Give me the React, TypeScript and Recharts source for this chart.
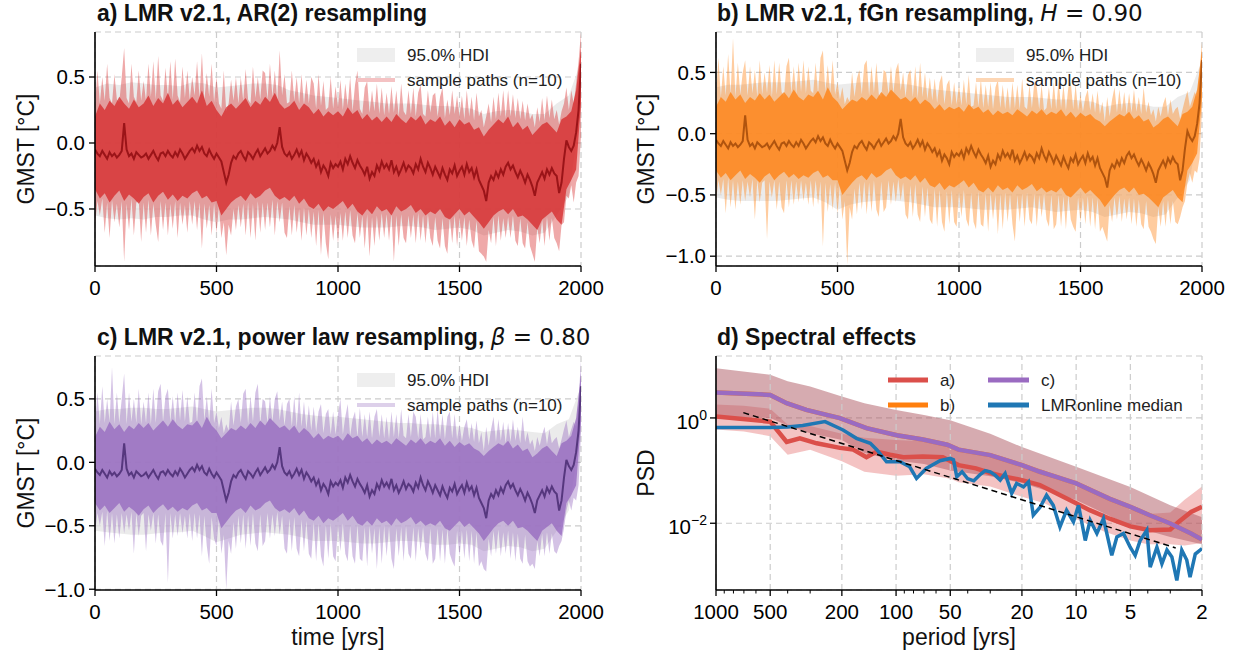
import React from 'react';
import {
  ComposedChart,
  Area,
  Line,
  XAxis,
  YAxis,
  CartesianGrid,
  ReferenceLine,
} from 'recharts';

const FONT = '"Liberation Sans", Arial, Helvetica, sans-serif';
const MATH = '"DejaVu Sans", sans-serif';

// years 0..2000 every 10 yrs (201 points)
const years = Array.from({ length: 201 }, (_, i) => i * 10);

// LMR v2.1 median GMST, shared by panels a-c (every 10 yrs)
const medianLmr = [
  -0.05, -0.08, -0.1, -0.06, -0.09, -0.12, -0.07, -0.1, -0.08, -0.11,
  -0.09, -0.06, 0.15, -0.05, -0.1, -0.08, -0.12, -0.07, -0.09, -0.11,
  -0.1, -0.08, -0.12, -0.09, -0.06, -0.1, -0.13, -0.08, -0.07, -0.1,
  -0.06, -0.09, -0.11, -0.07, -0.1, -0.05, -0.08, -0.12, -0.09, -0.06,
  -0.04, -0.07, -0.02, -0.06, -0.03, -0.08, -0.1, -0.05, -0.09, -0.12,
  -0.08, -0.11, -0.14, -0.22, -0.3, -0.24, -0.15, -0.1, -0.12, -0.08,
  -0.06, -0.1, -0.13, -0.07, -0.09, -0.12, -0.08, -0.05, -0.1, -0.07,
  -0.04, -0.08, -0.06, -0.02, -0.05, 0.0, 0.12, -0.03, -0.08, -0.1,
  -0.07, -0.12, -0.09, -0.05, -0.1, -0.06, -0.13, -0.08, -0.11, -0.15,
  -0.12, -0.18, -0.14, -0.22, -0.17, -0.2, -0.25, -0.15, -0.19, -0.16,
  -0.18, -0.14, -0.2, -0.12, -0.16, -0.1, -0.15, -0.19, -0.13, -0.17,
  -0.2, -0.24, -0.18, -0.27, -0.22, -0.25, -0.17, -0.21, -0.14, -0.19,
  -0.16, -0.2, -0.13, -0.22, -0.18, -0.24, -0.2, -0.15, -0.21, -0.17,
  -0.19, -0.23, -0.16, -0.2, -0.12, -0.18, -0.22, -0.15, -0.19, -0.24,
  -0.18, -0.22, -0.26, -0.19, -0.24, -0.28, -0.2, -0.23, -0.17, -0.25,
  -0.21, -0.18, -0.24, -0.16, -0.22, -0.19, -0.26, -0.2, -0.28, -0.32,
  -0.36, -0.44, -0.3, -0.25, -0.28, -0.22, -0.26, -0.2, -0.24, -0.18,
  -0.15, -0.2, -0.17, -0.22, -0.26, -0.21, -0.25, -0.3, -0.24, -0.28,
  -0.33, -0.4, -0.3, -0.26, -0.22, -0.27, -0.2, -0.24, -0.19, -0.23,
  -0.25, -0.38, -0.3, -0.12, 0.02, -0.03, -0.06, -0.02, 0.08, 0.25,
  0.6,
];

// a) AR(2): extremes of the sample paths (every 10 yrs)
const outerHiA = [
  0.28, 0.55, 0.3, 0.5, 0.32, 0.6, 0.34, 0.3, 0.52, 0.33,
  0.31, 0.5, 0.72, 0.34, 0.3, 0.6, 0.35, 0.31, 0.55, 0.32,
  0.47, 0.32, 0.6, 0.35, 0.62, 0.33, 0.66, 0.36, 0.32, 0.57,
  0.34, 0.62, 0.33, 0.64, 0.36, 0.31, 0.58, 0.34, 0.55, 0.33,
  0.5, 0.36, 0.62, 0.34, 0.68, 0.32, 0.53, 0.35, 0.6, 0.31,
  0.5, 0.3, 0.26, 0.55, 0.24, 0.3, 0.48, 0.32, 0.5, 0.3,
  0.5, 0.32, 0.56, 0.33, 0.3, 0.58, 0.34, 0.5, 0.33, 0.55,
  0.53, 0.33, 0.6, 0.35, 0.55, 0.32, 0.7, 0.36, 0.52, 0.3,
  0.31, 0.55, 0.32, 0.5, 0.3, 0.52, 0.29, 0.48, 0.3, 0.5,
  0.45, 0.26, 0.52, 0.28, 0.47, 0.25, 0.27, 0.5, 0.26, 0.43,
  0.27, 0.48, 0.25, 0.45, 0.28, 0.5, 0.24, 0.44, 0.55, 0.26,
  0.22, 0.42, 0.47, 0.23, 0.4, 0.24, 0.45, 0.22, 0.42, 0.21,
  0.38, 0.22, 0.43, 0.23, 0.4, 0.2, 0.45, 0.24, 0.21, 0.4,
  0.22, 0.42, 0.2, 0.38, 0.44, 0.22, 0.2, 0.4, 0.23, 0.36,
  0.38, 0.2, 0.35, 0.42, 0.19, 0.33, 0.21, 0.4, 0.22, 0.36,
  0.2, 0.36, 0.18, 0.4, 0.2, 0.35, 0.17, 0.38, 0.2, 0.25,
  0.12, 0.2, 0.3, 0.16, 0.35, 0.18, 0.38, 0.2, 0.4, 0.19,
  0.4, 0.2, 0.37, 0.19, 0.34, 0.18, 0.32, 0.17, 0.3, 0.18,
  0.22, 0.12, 0.27, 0.16, 0.34, 0.17, 0.36, 0.19, 0.33, 0.18,
  0.25, 0.14, 0.24, 0.3, 0.42, 0.25, 0.4, 0.3, 0.45, 0.62,
  0.84,
];
const outerLoA = [
  -0.62, -0.44, -0.55, -0.42, -0.68, -0.45, -0.72, -0.43, -0.6, -0.46,
  -0.64, -0.44, -0.9, -0.46, -0.66, -0.42, -0.7, -0.45, -0.44, -0.75,
  -0.45, -0.68, -0.43, -0.7, -0.46, -0.62, -0.75, -0.44, -0.66, -0.45,
  -0.7, -0.46, -0.65, -0.44, -0.72, -0.45, -0.62, -0.47, -0.68, -0.44,
  -0.62, -0.44, -0.66, -0.45, -0.8, -0.46, -0.65, -0.47, -0.7, -0.46,
  -0.68, -0.48, -0.72, -0.6, -0.85, -0.62, -0.7, -0.5, -0.66, -0.47,
  -0.64, -0.46, -0.7, -0.45, -0.72, -0.46, -0.74, -0.44, -0.68, -0.45,
  -0.66, -0.45, -0.64, -0.43, -0.7, -0.44, -0.6, -0.45, -0.68, -0.72,
  -0.48, -0.7, -0.47, -0.68, -0.5, -0.74, -0.49, -0.7, -0.5, -0.72,
  -0.52, -0.78, -0.51, -0.85, -0.53, -0.76, -0.88, -0.54, -0.74, -0.55,
  -0.76, -0.53, -0.74, -0.52, -0.72, -0.51, -0.7, -0.76, -0.53, -0.72,
  -0.55, -0.8, -0.54, -0.86, -0.56, -0.78, -0.55, -0.74, -0.53, -0.72,
  -0.54, -0.74, -0.53, -0.9, -0.55, -0.78, -0.54, -0.72, -0.76, -0.55,
  -0.72, -0.54, -0.76, -0.53, -0.74, -0.55, -0.76, -0.54, -0.72, -0.78,
  -0.56, -0.74, -0.8, -0.57, -0.78, -0.84, -0.56, -0.76, -0.55, -0.78,
  -0.57, -0.74, -0.56, -0.78, -0.58, -0.74, -0.8, -0.59, -0.82, -0.84,
  -0.86, -0.9, -0.66, -0.76, -0.56, -0.78, -0.55, -0.74, -0.57, -0.72,
  -0.56, -0.72, -0.55, -0.74, -0.78, -0.57, -0.76, -0.8, -0.6, -0.78,
  -0.84, -0.9, -0.64, -0.76, -0.58, -0.78, -0.56, -0.74, -0.57, -0.72,
  -0.76, -0.82, -0.62, -0.6, -0.4, -0.42, -0.32, -0.45, -0.3, -0.25,
  0.05,
];
// a) dense core of the sample paths (every 20 yrs)
const innerHiA = [
  0.2, 0.3, 0.25, 0.32, 0.28, 0.35, 0.3, 0.26, 0.33, 0.27,
  0.3, 0.36, 0.28, 0.34, 0.3, 0.38, 0.29, 0.33, 0.27, 0.31,
  0.35, 0.3, 0.4, 0.28, 0.32, 0.25, 0.2, 0.27, 0.3, 0.26,
  0.3, 0.34, 0.27, 0.32, 0.29, 0.35, 0.31, 0.38, 0.3, 0.26,
  0.28, 0.32, 0.25, 0.3, 0.27, 0.22, 0.26, 0.2, 0.24, 0.21,
  0.24, 0.2, 0.27, 0.22, 0.25, 0.18, 0.22, 0.17, 0.2, 0.16,
  0.2, 0.16, 0.22, 0.18, 0.15, 0.2, 0.17, 0.21, 0.14, 0.18,
  0.16, 0.2, 0.13, 0.17, 0.12, 0.18, 0.14, 0.16, 0.1, 0.12,
  0.05, 0.1, 0.14, 0.18, 0.15, 0.2, 0.12, 0.16, 0.1, 0.13,
  0.06, 0.1, 0.14, 0.16, 0.12, 0.08, 0.18, 0.2, 0.24, 0.4,
  0.72,
];
const innerLoA = [
  -0.35, -0.42, -0.38, -0.45, -0.4, -0.36, -0.44, -0.39, -0.42, -0.46,
  -0.41, -0.38, -0.45, -0.4, -0.37, -0.43, -0.39, -0.44, -0.4, -0.42,
  -0.38, -0.36, -0.42, -0.4, -0.45, -0.44, -0.55, -0.5, -0.45, -0.42,
  -0.4, -0.44, -0.38, -0.42, -0.4, -0.36, -0.34, -0.4, -0.43, -0.41,
  -0.44, -0.4, -0.46, -0.42, -0.48, -0.5, -0.46, -0.52, -0.48, -0.5,
  -0.47, -0.44, -0.5, -0.46, -0.52, -0.55, -0.5, -0.54, -0.48, -0.52,
  -0.5, -0.55, -0.48, -0.52, -0.5, -0.47, -0.53, -0.5, -0.55, -0.52,
  -0.54, -0.5, -0.56, -0.58, -0.54, -0.5, -0.55, -0.52, -0.56, -0.6,
  -0.65, -0.6, -0.55, -0.52, -0.5, -0.54, -0.5, -0.56, -0.55, -0.58,
  -0.62, -0.66, -0.58, -0.55, -0.52, -0.58, -0.62, -0.35, -0.28, -0.2,
  0.3,
];
// a) 95% HDI (every 50 yrs)
const hdiHiA = [
  0.42, 0.45, 0.44, 0.46, 0.45, 0.44, 0.44, 0.43, 0.46, 0.45,
  0.42, 0.43, 0.44, 0.45, 0.45, 0.44, 0.4, 0.38, 0.36, 0.35,
  0.34, 0.33, 0.32, 0.31, 0.3, 0.3, 0.3, 0.29, 0.28, 0.28,
  0.27, 0.26, 0.22, 0.24, 0.25, 0.24, 0.22, 0.22, 0.3, 0.36,
  0.62,
];
const hdiLoA = [
  -0.55, -0.57, -0.58, -0.57, -0.58, -0.56, -0.56, -0.55, -0.55, -0.58,
  -0.6, -0.58, -0.58, -0.57, -0.56, -0.57, -0.58, -0.6, -0.62, -0.62,
  -0.62, -0.63, -0.64, -0.64, -0.64, -0.63, -0.63, -0.64, -0.66, -0.65,
  -0.64, -0.66, -0.7, -0.68, -0.66, -0.67, -0.7, -0.68, -0.55, -0.4,
  0.25,
];

// b) fGn
const outerHiB = [
  0.3, 0.62, 0.3, 0.55, 0.31, 0.65, 0.32, 0.78, 0.3, 0.58,
  0.32, 0.5, 0.6, 0.31, 0.55, 0.33, 0.52, 0.3, 0.6, 0.32,
  0.5, 0.33, 0.56, 0.3, 0.6, 0.32, 0.58, 0.34, 0.31, 0.55,
  0.62, 0.33, 0.55, 0.32, 0.58, 0.34, 0.6, 0.33, 0.55, 0.35,
  0.33, 0.58, 0.32, 0.62, 0.68, 0.34, 0.56, 0.33, 0.6, 0.32,
  0.42, 0.28, 0.38, 0.24, 0.3, 0.26, 0.5, 0.3, 0.45, 0.52,
  0.32, 0.56, 0.6, 0.31, 0.55, 0.33, 0.58, 0.32, 0.3, 0.52,
  0.5, 0.32, 0.55, 0.33, 0.52, 0.58, 0.35, 0.5, 0.3, 0.48,
  0.52, 0.3, 0.55, 0.29, 0.58, 0.3, 0.5, 0.28, 0.46, 0.27,
  0.45, 0.25, 0.42, 0.48, 0.24, 0.4, 0.44, 0.23, 0.42, 0.24,
  0.4, 0.23, 0.44, 0.24, 0.48, 0.22, 0.23, 0.42, 0.22, 0.45,
  0.21, 0.4, 0.22, 0.42, 0.2, 0.38, 0.44, 0.21, 0.4, 0.2,
  0.38, 0.19, 0.42, 0.21, 0.4, 0.2, 0.45, 0.22, 0.2, 0.4,
  0.21, 0.42, 0.38, 0.2, 0.4, 0.19, 0.21, 0.38, 0.2, 0.42,
  0.2, 0.44, 0.21, 0.4, 0.19, 0.38, 0.42, 0.2, 0.4, 0.19,
  0.32, 0.18, 0.3, 0.36, 0.19, 0.33, 0.17, 0.35, 0.16, 0.26,
  0.1, 0.3, 0.14, 0.28, 0.38, 0.17, 0.36, 0.18, 0.34, 0.16,
  0.33, 0.17, 0.36, 0.18, 0.3, 0.16, 0.38, 0.17, 0.26, 0.15,
  0.2, 0.1, 0.22, 0.14, 0.24, 0.3, 0.15, 0.28, 0.16, 0.2,
  0.22, 0.12, 0.2, 0.28, 0.35, 0.22, 0.28, 0.34, 0.3, 0.52,
  0.75,
];
const outerLoB = [
  -0.55, -0.38, -0.5, -0.37, -0.65, -0.36, -0.6, -0.38, -0.62, -0.39,
  -0.58, -0.38, -0.55, -0.39, -0.52, -0.37, -0.7, -0.38, -0.56, -0.4,
  -0.38, -0.86, -0.39, -0.52, -0.38, -0.62, -0.39, -0.6, -0.65, -0.38,
  -0.6, -0.38, -0.58, -0.39, -0.56, -0.38, -0.55, -0.4, -0.58, -0.38,
  -0.6, -0.38, -0.58, -0.39, -0.92, -0.4, -0.64, -0.41, -0.62, -0.4,
  -0.65, -0.42, -0.7, -0.55, -1.07, -0.6, -0.7, -0.45, -0.66, -0.4,
  -0.62, -0.39, -0.66, -0.4, -0.64, -0.38, -0.62, -0.68, -0.39, -0.64,
  -0.6, -0.38, -0.58, -0.39, -0.56, -0.37, -0.55, -0.4, -0.66, -0.7,
  -0.42, -0.68, -0.41, -0.66, -0.72, -0.43, -0.68, -0.44, -0.7, -0.74,
  -0.45, -0.76, -0.46, -0.72, -0.8, -0.47, -0.74, -0.46, -0.72, -0.76,
  -0.47, -0.68, -0.46, -0.7, -0.76, -0.48, -0.72, -0.78, -0.47, -0.74,
  -0.76, -0.49, -0.8, -0.48, -0.7, -0.5, -0.82, -0.49, -0.78, -0.48,
  -0.72, -0.49, -0.74, -0.88, -0.5, -0.72, -0.49, -0.76, -0.48, -0.7,
  -0.74, -0.49, -0.76, -0.5, -0.68, -0.49, -0.7, -0.76, -0.5, -0.78,
  -0.74, -0.5, -0.76, -0.51, -0.78, -0.5, -0.7, -0.76, -0.8, -0.52,
  -0.72, -0.52, -0.74, -0.51, -0.76, -0.52, -0.78, -0.53, -0.8, -0.76,
  -0.82, -0.88, -0.58, -0.72, -0.52, -0.7, -0.51, -0.72, -0.53, -0.7,
  -0.52, -0.74, -0.53, -0.76, -0.54, -0.74, -0.78, -0.55, -0.76, -0.8,
  -0.86, -0.9, -0.6, -0.76, -0.55, -0.76, -0.54, -0.74, -0.55, -0.72,
  -0.74, -0.68, -0.6, -0.55, -0.4, -0.32, -0.4, -0.3, -0.32, -0.2,
  0.2,
];
const innerHiB = [
  0.22, 0.3, 0.26, 0.34, 0.28, 0.32, 0.25, 0.3, 0.27, 0.33,
  0.28, 0.32, 0.26, 0.3, 0.34, 0.29, 0.36, 0.3, 0.27, 0.32,
  0.3, 0.35, 0.28, 0.38, 0.3, 0.26, 0.2, 0.24, 0.28, 0.26,
  0.3, 0.27, 0.32, 0.28, 0.34, 0.3, 0.36, 0.32, 0.28, 0.3,
  0.26, 0.3, 0.24, 0.28, 0.25, 0.2, 0.24, 0.19, 0.22, 0.2,
  0.22, 0.18, 0.24, 0.2, 0.22, 0.17, 0.2, 0.15, 0.19, 0.16,
  0.18, 0.15, 0.2, 0.17, 0.14, 0.19, 0.16, 0.2, 0.15, 0.18,
  0.16, 0.2, 0.14, 0.18, 0.13, 0.17, 0.14, 0.16, 0.12, 0.1,
  0.06, 0.1, 0.13, 0.16, 0.14, 0.18, 0.12, 0.15, 0.1, 0.12,
  0.05, 0.08, 0.12, 0.14, 0.1, 0.06, 0.16, 0.18, 0.22, 0.36,
  0.68,
];
const innerLoB = [
  -0.3, -0.36, -0.32, -0.38, -0.34, -0.3, -0.37, -0.33, -0.36, -0.4,
  -0.35, -0.32, -0.38, -0.34, -0.31, -0.36, -0.33, -0.37, -0.34, -0.36,
  -0.32, -0.3, -0.36, -0.34, -0.38, -0.38, -0.5, -0.45, -0.4, -0.36,
  -0.34, -0.38, -0.32, -0.36, -0.34, -0.3, -0.28, -0.34, -0.37, -0.35,
  -0.38, -0.34, -0.4, -0.36, -0.42, -0.44, -0.4, -0.46, -0.42, -0.44,
  -0.41, -0.38, -0.44, -0.4, -0.46, -0.48, -0.44, -0.48, -0.42, -0.46,
  -0.44, -0.48, -0.42, -0.46, -0.44, -0.41, -0.47, -0.44, -0.48, -0.46,
  -0.48, -0.44, -0.5, -0.52, -0.48, -0.44, -0.49, -0.46, -0.5, -0.54,
  -0.6, -0.55, -0.5, -0.46, -0.44, -0.48, -0.44, -0.5, -0.49, -0.52,
  -0.56, -0.6, -0.52, -0.49, -0.46, -0.52, -0.56, -0.3, -0.24, -0.16,
  0.3,
];
const hdiHiB = [
  0.38, 0.4, 0.4, 0.41, 0.42, 0.42, 0.42, 0.43, 0.44, 0.42,
  0.4, 0.41, 0.42, 0.42, 0.42, 0.41, 0.4, 0.38, 0.36, 0.35,
  0.34, 0.33, 0.32, 0.31, 0.3, 0.3, 0.3, 0.29, 0.28, 0.28,
  0.27, 0.26, 0.22, 0.24, 0.25, 0.24, 0.22, 0.22, 0.3, 0.34,
  0.6,
];
const hdiLoB = [
  -0.52, -0.54, -0.55, -0.55, -0.55, -0.55, -0.54, -0.53, -0.52, -0.56,
  -0.62, -0.58, -0.56, -0.55, -0.54, -0.55, -0.56, -0.58, -0.6, -0.6,
  -0.6, -0.61, -0.62, -0.62, -0.62, -0.61, -0.6, -0.62, -0.64, -0.63,
  -0.62, -0.64, -0.68, -0.66, -0.64, -0.65, -0.68, -0.66, -0.52, -0.38,
  0.25,
];

// c) power law
const outerHiC = [
  0.28, 0.55, 0.3, 0.6, 0.31, 0.5, 0.32, 0.75, 0.3, 0.55,
  0.31, 0.5, 0.7, 0.3, 0.55, 0.32, 0.5, 0.31, 0.58, 0.3,
  0.48, 0.31, 0.55, 0.3, 0.58, 0.31, 0.56, 0.62, 0.32, 0.52,
  0.58, 0.32, 0.52, 0.31, 0.55, 0.33, 0.57, 0.32, 0.52, 0.31,
  0.32, 0.55, 0.31, 0.6, 0.66, 0.33, 0.52, 0.32, 0.58, 0.31,
  0.4, 0.27, 0.36, 0.23, 0.3, 0.25, 0.48, 0.29, 0.44, 0.5,
  0.31, 0.54, 0.58, 0.3, 0.52, 0.32, 0.55, 0.62, 0.3, 0.5,
  0.48, 0.31, 0.52, 0.32, 0.5, 0.56, 0.33, 0.48, 0.29, 0.46,
  0.5, 0.28, 0.52, 0.27, 0.55, 0.28, 0.48, 0.26, 0.45, 0.25,
  0.44, 0.24, 0.4, 0.46, 0.23, 0.38, 0.42, 0.22, 0.4, 0.22,
  0.38, 0.5, 0.22, 0.36, 0.46, 0.21, 0.34, 0.4, 0.2, 0.43,
  0.2, 0.38, 0.2, 0.4, 0.19, 0.36, 0.42, 0.2, 0.38, 0.19,
  0.36, 0.18, 0.4, 0.2, 0.38, 0.19, 0.42, 0.21, 0.19, 0.38,
  0.2, 0.4, 0.36, 0.19, 0.38, 0.18, 0.2, 0.36, 0.19, 0.4,
  0.19, 0.42, 0.2, 0.38, 0.18, 0.36, 0.4, 0.19, 0.38, 0.18,
  0.3, 0.17, 0.28, 0.34, 0.18, 0.31, 0.16, 0.33, 0.15, 0.24,
  0.09, 0.28, 0.13, 0.26, 0.36, 0.16, 0.34, 0.17, 0.32, 0.15,
  0.31, 0.16, 0.34, 0.17, 0.28, 0.15, 0.36, 0.16, 0.24, 0.14,
  0.18, 0.09, 0.2, 0.13, 0.22, 0.28, 0.14, 0.26, 0.15, 0.18,
  0.2, 0.11, 0.18, 0.26, 0.33, 0.2, 0.26, 0.32, 0.28, 0.5,
  0.8,
];
const outerLoC = [
  -0.55, -0.4, -0.5, -0.39, -0.66, -0.38, -0.62, -0.4, -0.64, -0.41,
  -0.6, -0.4, -0.56, -0.41, -0.54, -0.39, -0.72, -0.4, -0.58, -0.42,
  -0.4, -0.7, -0.41, -0.54, -0.4, -0.64, -0.41, -0.62, -0.66, -0.4,
  -0.95, -0.4, -0.6, -0.41, -0.58, -0.4, -0.56, -0.42, -0.6, -0.4,
  -0.62, -0.4, -0.6, -0.41, -0.74, -0.42, -0.66, -0.8, -0.43, -0.6,
  -0.66, -0.44, -0.72, -0.57, -1.0, -0.62, -0.72, -0.47, -0.68, -0.42,
  -0.64, -0.41, -0.68, -0.42, -0.66, -0.4, -0.64, -0.7, -0.41, -0.66,
  -0.62, -0.4, -0.6, -0.41, -0.58, -0.39, -0.57, -0.42, -0.68, -0.72,
  -0.44, -0.7, -0.43, -0.68, -0.74, -0.45, -0.7, -0.46, -0.72, -0.76,
  -0.47, -0.78, -0.48, -0.74, -0.82, -0.49, -0.76, -0.48, -0.74, -0.78,
  -0.49, -0.7, -0.48, -0.72, -0.78, -0.5, -0.74, -0.8, -0.49, -0.76,
  -0.78, -0.51, -0.82, -0.5, -0.72, -0.52, -0.84, -0.51, -0.8, -0.5,
  -0.74, -0.51, -0.76, -0.84, -0.52, -0.74, -0.51, -0.78, -0.5, -0.72,
  -0.76, -0.51, -0.78, -0.52, -0.7, -0.51, -0.72, -0.78, -0.52, -0.8,
  -0.76, -0.52, -0.78, -0.53, -0.8, -0.52, -0.72, -0.78, -0.82, -0.54,
  -0.74, -0.54, -0.76, -0.53, -0.78, -0.54, -0.8, -0.55, -0.82, -0.78,
  -0.84, -0.86, -0.6, -0.74, -0.54, -0.72, -0.53, -0.74, -0.55, -0.72,
  -0.54, -0.76, -0.55, -0.78, -0.56, -0.76, -0.8, -0.57, -0.78, -0.82,
  -0.8, -0.84, -0.62, -0.74, -0.56, -0.74, -0.55, -0.72, -0.56, -0.7,
  -0.72, -0.66, -0.62, -0.52, -0.38, -0.3, -0.38, -0.28, -0.3, -0.18,
  0.22,
];
const innerHiC = [
  0.2, 0.28, 0.24, 0.32, 0.26, 0.3, 0.24, 0.29, 0.26, 0.31,
  0.27, 0.31, 0.25, 0.29, 0.33, 0.28, 0.34, 0.29, 0.26, 0.3,
  0.29, 0.33, 0.27, 0.36, 0.29, 0.25, 0.19, 0.23, 0.27, 0.25,
  0.29, 0.26, 0.31, 0.27, 0.33, 0.29, 0.35, 0.31, 0.27, 0.29,
  0.25, 0.29, 0.23, 0.27, 0.24, 0.19, 0.23, 0.18, 0.21, 0.19,
  0.21, 0.17, 0.23, 0.19, 0.21, 0.16, 0.19, 0.14, 0.18, 0.15,
  0.17, 0.14, 0.19, 0.16, 0.13, 0.18, 0.15, 0.19, 0.14, 0.17,
  0.15, 0.19, 0.13, 0.17, 0.12, 0.16, 0.13, 0.15, 0.11, 0.09,
  0.05, 0.09, 0.12, 0.15, 0.13, 0.17, 0.11, 0.14, 0.09, 0.11,
  0.04, 0.07, 0.11, 0.13, 0.09, 0.05, 0.15, 0.17, 0.21, 0.35,
  0.7,
];
const innerLoC = [
  -0.32, -0.38, -0.34, -0.4, -0.36, -0.32, -0.39, -0.35, -0.38, -0.42,
  -0.37, -0.34, -0.4, -0.36, -0.33, -0.38, -0.35, -0.39, -0.36, -0.38,
  -0.34, -0.32, -0.38, -0.36, -0.4, -0.4, -0.52, -0.47, -0.42, -0.38,
  -0.36, -0.4, -0.34, -0.38, -0.36, -0.32, -0.3, -0.36, -0.39, -0.37,
  -0.4, -0.36, -0.42, -0.38, -0.44, -0.46, -0.42, -0.48, -0.44, -0.46,
  -0.43, -0.4, -0.46, -0.42, -0.48, -0.5, -0.46, -0.5, -0.44, -0.48,
  -0.46, -0.5, -0.44, -0.48, -0.46, -0.43, -0.49, -0.46, -0.5, -0.48,
  -0.5, -0.46, -0.52, -0.54, -0.5, -0.46, -0.51, -0.48, -0.52, -0.56,
  -0.62, -0.57, -0.52, -0.48, -0.46, -0.5, -0.46, -0.52, -0.51, -0.54,
  -0.58, -0.62, -0.54, -0.51, -0.48, -0.54, -0.58, -0.32, -0.26, -0.18,
  0.32,
];
const hdiHiC = [
  0.4, 0.42, 0.42, 0.43, 0.43, 0.42, 0.42, 0.43, 0.44, 0.42,
  0.4, 0.41, 0.42, 0.43, 0.43, 0.42, 0.4, 0.38, 0.37, 0.36,
  0.36, 0.35, 0.34, 0.33, 0.32, 0.31, 0.31, 0.3, 0.3, 0.29,
  0.28, 0.27, 0.24, 0.25, 0.26, 0.25, 0.24, 0.23, 0.3, 0.34,
  0.6,
];
const hdiLoC = [
  -0.54, -0.55, -0.56, -0.57, -0.57, -0.56, -0.55, -0.55, -0.54, -0.58,
  -0.63, -0.6, -0.57, -0.56, -0.55, -0.56, -0.57, -0.59, -0.62, -0.62,
  -0.62, -0.63, -0.64, -0.64, -0.63, -0.62, -0.62, -0.63, -0.65, -0.65,
  -0.64, -0.65, -0.7, -0.68, -0.66, -0.67, -0.7, -0.68, -0.54, -0.38,
  0.25,
];

// d) spectra: [period, PSD]
const psdA: [number, number][] = [
  [1000, 1.06], [500, 0.85], [405, 0.35], [342, 0.41], [276, 0.33], [205, 0.27],
  [173, 0.25], [146, 0.18], [128, 0.23], [108, 0.2], [91, 0.18], [71, 0.185],
  [55, 0.18], [45, 0.127], [36, 0.11], [30, 0.09], [24.5, 0.076], [20, 0.066],
  [15.9, 0.053], [12.9, 0.037], [10, 0.024], [8.4, 0.0177], [6.5, 0.0122],
  [5, 0.0087], [3.9, 0.0074], [3, 0.0076], [2.7, 0.0106], [2.3, 0.0164], [2, 0.0205],
];
const psdC: [number, number][] = [
  [1000, 3.03], [500, 2.74], [405, 1.9], [315, 1.42], [205, 0.99], [146, 0.64],
  [99, 0.47], [71, 0.39], [52, 0.31], [45, 0.25], [30, 0.197], [20, 0.127],
  [15.9, 0.095], [12.9, 0.076], [10, 0.057], [6.5, 0.029], [5, 0.0205],
  [3.9, 0.0142], [3, 0.0099], [2.3, 0.0064], [2, 0.0049],
];
const psdLmr: [number, number][] = [
  [1000, 0.66], [500, 0.66], [400, 0.67], [330, 0.72], [248, 0.85], [197, 0.59],
  [166, 0.41], [139, 0.33], [128, 0.25], [113, 0.147], [95, 0.147], [84, 0.118],
  [77, 0.071], [68, 0.11], [57, 0.154], [50, 0.17], [48, 0.16], [46, 0.076],
  [43, 0.095], [40, 0.07], [37, 0.064], [34, 0.085], [32, 0.1], [30, 0.095],
  [28.2, 0.082], [26.4, 0.066], [24.8, 0.088], [22.8, 0.037], [21.4, 0.057],
  [19.6, 0.049], [18.4, 0.061], [17.3, 0.0142], [15.8, 0.0205], [14.6, 0.034],
  [13.4, 0.022], [12.3, 0.0085], [11.3, 0.0177], [10.35, 0.0106], [9.7, 0.022],
  [8.9, 0.0047], [8.36, 0.0114], [7.67, 0.0064], [7.05, 0.0123], [6.34, 0.00246],
  [5.94, 0.0055], [5.46, 0.0064], [5.01, 0.0035], [4.7, 0.00246], [4.41, 0.0047],
  [4.05, 0.0074], [3.88, 0.00147], [3.56, 0.0035], [3.34, 0.0017], [3.13, 0.0031],
  [2.94, 0.0023], [2.76, 0.00082], [2.59, 0.0031], [2.43, 0.002], [2.33, 0.00095],
  [2.18, 0.0026], [2, 0.0033],
];
const powerLawFit: [number, number][] = [[705, 1.26], [2.8, 0.0034]];

const bandPeriodsA = [1000, 700, 500, 400, 300, 200, 150, 100, 70, 50, 45, 30, 20, 15, 10, 7, 5, 4, 3, 2.5, 2];
const bandHiA = [1.8, 1.7, 1.5, 0.75, 0.7, 0.5, 0.42, 0.38, 0.36, 0.32, 0.24, 0.19, 0.14, 0.1, 0.05, 0.032, 0.018, 0.015, 0.016, 0.028, 0.05];
const bandLoA = [0.6, 0.55, 0.45, 0.2, 0.25, 0.15, 0.095, 0.08, 0.085, 0.07, 0.06, 0.05, 0.032, 0.024, 0.012, 0.007, 0.0047, 0.004, 0.004, 0.0038, 0.0042];
const bandPeriodsC = [1000, 500, 400, 300, 200, 150, 100, 70, 50, 30, 20, 10, 5, 3, 2];
const bandHiC = [8.8, 6.6, 5.0, 3.95, 2.55, 1.9, 1.42, 1.14, 0.9, 0.5, 0.28, 0.118, 0.049, 0.022, 0.013];
const bandLoC = [1.04, 1.0, 0.72, 0.51, 0.38, 0.215, 0.156, 0.133, 0.1, 0.078, 0.058, 0.0275, 0.009, 0.0055, 0.004];

const majorPeriods = [1000, 500, 200, 100, 50, 20, 10, 5, 2];
const periodTicks = [1000, 900, 800, 700, 600, 500, 400, 300, 200, 100, 90, 80, 70, 60, 50, 40, 30, 20, 10, 9, 8, 7, 6, 5, 4, 3, 2];
const yearTicks = [0, 500, 1000, 1500, 2000];

type Row = Record<string, any>;

function buildSeries(oLo: number[], oHi: number[], iLo: number[], iHi: number[], hLo: number[], hHi: number[]): Row[] {
  return years.map((year, i) => ({
    year,
    median: medianLmr[i],
    outer: [oLo[i], oHi[i]],
    inner: i % 2 === 0 ? [iLo[i / 2], iHi[i / 2]] : [null, null],
    hdi: i % 5 === 0 ? [hLo[i / 5], hHi[i / 5]] : [null, null],
  }));
}

const dataA = buildSeries(outerLoA, outerHiA, innerLoA, innerHiA, hdiLoA, hdiHiA);
const dataB = buildSeries(outerLoB, outerHiB, innerLoB, innerHiB, hdiLoB, hdiHiB);
const dataC = buildSeries(outerLoC, outerHiC, innerLoC, innerHiC, hdiLoC, hdiHiC);

const psdRows: Row[] = (() => {
  const rows = new Map<number, Row>();
  const put = (p: number, key: string, v: any) => {
    if (!rows.has(p)) rows.set(p, { p });
    rows.get(p)![key] = v;
  };
  psdA.forEach(([p, v]) => put(p, 'a', v));
  psdC.forEach(([p, v]) => put(p, 'c', v));
  psdLmr.forEach(([p, v]) => put(p, 'lmr', v));
  powerLawFit.forEach(([p, v]) => put(p, 'fit', v));
  bandPeriodsA.forEach((p, i) => put(p, 'bandA', [bandLoA[i], bandHiA[i]]));
  bandPeriodsC.forEach((p, i) => put(p, 'bandC', [bandLoC[i], bandHiC[i]]));
  return [...rows.values()]
    .sort((x, y) => y.p - x.p)
    .map((r) => ({ bandA: [null, null], bandC: [null, null], ...r }));
})();

const fmtTemp = (v: number) => (v < 0 ? '\u2212' : '') + Math.abs(v).toFixed(1);

const TICK_FS = 20.5;
const axisLine = { stroke: '#000', strokeWidth: 1.6 };
const tickLine = { stroke: '#000', strokeWidth: 1.3 };
const tickText = { fill: '#000', fontSize: TICK_FS, fontFamily: FONT };
const gridProps = { stroke: '#cccccc', strokeDasharray: '6 4', strokeWidth: 1.2 };

interface TimePanelProps {
  data: Row[];
  left: number;
  top: number;
  width: number;
  marginRight: number;
  yWidth: number;
  yDomain: [number, number];
  yTicks: number[];
  color: string;
  dark: string;
}

function TimePanel({ data, left, top, width, marginRight, yWidth, yDomain, yTicks, color, dark }: TimePanelProps) {
  return (
    <div style={{ position: 'absolute', left, top }}>
      <ComposedChart width={width} height={320} data={data} margin={{ top: 32, right: marginRight, bottom: 14, left: 0 }}>
        <CartesianGrid {...gridProps} />
        <XAxis
          dataKey="year"
          type="number"
          domain={[0, 2000]}
          ticks={yearTicks}
          interval={0}
          allowDataOverflow
          height={40}
          tickSize={6}
          tickMargin={8}
          axisLine={axisLine}
          tickLine={tickLine}
          tick={tickText}
        />
        <YAxis
          type="number"
          domain={yDomain}
          ticks={yTicks}
          interval={0}
          allowDataOverflow
          width={yWidth}
          tickSize={6}
          tickMargin={4}
          axisLine={axisLine}
          tickLine={tickLine}
          tick={tickText}
          tickFormatter={fmtTemp}
        />
        <Area dataKey="hdi" type="linear" fill="#e4e4e4" fillOpacity={0.75} stroke="none" connectNulls dot={false} activeDot={false} isAnimationActive={false} />
        <Area dataKey="outer" type="linear" fill={color} fillOpacity={0.4} stroke="none" dot={false} activeDot={false} isAnimationActive={false} />
        <Area dataKey="inner" type="linear" fill={color} fillOpacity={0.75} stroke="none" connectNulls dot={false} activeDot={false} isAnimationActive={false} />
        <Line dataKey="median" type="linear" stroke={dark} strokeWidth={2} dot={false} activeDot={false} isAnimationActive={false} />
      </ComposedChart>
    </div>
  );
}

function PeriodTick(props: any) {
  const { x, y, payload } = props;
  const major = majorPeriods.includes(payload.value);
  return (
    <g>
      <line x1={x} x2={x} y1={y} y2={y + (major ? 6 : 3.5)} stroke="#000" strokeWidth={major ? 1.3 : 1} />
      {major && (
        <text x={x} y={y + 29} textAnchor="middle" fontSize={TICK_FS} fontFamily={FONT} fill="#000">
          {payload.value}
        </text>
      )}
    </g>
  );
}

function PowerTick(props: any) {
  const { x, y, payload } = props;
  const exp = Math.round(Math.log10(payload.value));
  return (
    <text x={x} y={y + 11} textAnchor="end" fontSize={TICK_FS} fontFamily={FONT} fill="#000">
      10
      <tspan dy={-9} fontSize={14}>
        {exp < 0 ? '\u2212' + -exp : String(exp)}
      </tspan>
    </text>
  );
}

function SpectrumPanel() {
  return (
    <div style={{ position: 'absolute', left: 620, top: 324 }}>
      <ComposedChart width={618} height={320} data={psdRows} margin={{ top: 32, right: 36, bottom: 14, left: 0 }}>
        <CartesianGrid {...gridProps} vertical={false} />
        <XAxis
          dataKey="p"
          type="number"
          scale="log"
          domain={[2, 1000]}
          reversed
          ticks={periodTicks}
          interval={0}
          allowDataOverflow
          height={40}
          tickSize={0}
          tickMargin={0}
          tickLine={false}
          axisLine={axisLine}
          tick={(p: any) => <PeriodTick {...p} />}
        />
        <YAxis
          type="number"
          scale="log"
          domain={[5.4e-4, 15]}
          ticks={[0.01, 1]}
          interval={0}
          allowDataOverflow
          width={96}
          tickSize={6}
          tickMargin={3}
          axisLine={axisLine}
          tickLine={tickLine}
          tick={(p: any) => <PowerTick {...p} />}
        />
        {majorPeriods.map((p) => (
          <ReferenceLine key={p} x={p} stroke="#cccccc" strokeDasharray="6 4" strokeWidth={1.2} />
        ))}
        <Area dataKey="bandA" type="linear" fill="#d62728" fillOpacity={0.28} stroke="none" connectNulls dot={false} activeDot={false} isAnimationActive={false} />
        <Area dataKey="bandC" type="linear" fill="#ad5862" fillOpacity={0.5} stroke="none" connectNulls dot={false} activeDot={false} isAnimationActive={false} />
        <Line dataKey="a" type="linear" stroke="#db4f4a" strokeWidth={4.5} dot={false} activeDot={false} connectNulls isAnimationActive={false} />
        <Line dataKey="c" type="linear" stroke="#ff7f0e" strokeWidth={4.5} dot={false} activeDot={false} connectNulls isAnimationActive={false} />
        <Line dataKey="c" type="linear" stroke="#9a6bc1" strokeWidth={4.5} dot={false} activeDot={false} connectNulls isAnimationActive={false} />
        <Line dataKey="lmr" type="linear" stroke="#1f77b4" strokeWidth={3.5} dot={false} activeDot={false} connectNulls isAnimationActive={false} />
        <Line dataKey="fit" type="linear" stroke="#000" strokeWidth={1.5} strokeDasharray="6 4" dot={false} activeDot={false} connectNulls isAnimationActive={false} />
      </ComposedChart>
    </div>
  );
}

function SampleLegend({ x, y, color }: { x: number; y: number; color: string }) {
  return (
    <g fontFamily={FONT} fontSize={17} fill="#222">
      <rect x={x} y={y - 7} width={38} height={14} fill="#eeeeee" />
      <text x={x + 50} y={y + 6}>95.0% HDI</text>
      <line x1={x} x2={x + 38} y1={y + 25} y2={y + 25} stroke={color} strokeWidth={4} />
      <text x={x + 50} y={y + 31}>sample paths (n=10)</text>
    </g>
  );
}

function Overlay() {
  const title = { fontFamily: FONT, fontSize: 23, fontWeight: 700, fill: '#111' } as const;
  const label = { fontFamily: FONT, fontSize: 23, fill: '#111' } as const;
  return (
    <svg width={1238} height={659} style={{ position: 'absolute', left: 0, top: 0, pointerEvents: 'none' }}>
      <text x={97} y={21} {...title}>a) LMR v2.1, AR(2) resampling</text>
      <text x={717} y={21} {...title}>
        b) LMR v2.1, fGn resampling,{' '}
        <tspan fontFamily={MATH} fontWeight={400} fontStyle="italic">H</tspan>
        <tspan fontFamily={MATH} fontWeight={400}> = 0.90</tspan>
      </text>
      <text x={97} y={345} {...title}>
        c) LMR v2.1, power law resampling,{' '}
        <tspan fontFamily={MATH} fontWeight={400} fontStyle="italic">β</tspan>
        <tspan fontFamily={MATH} fontWeight={400}> = 0.80</tspan>
      </text>
      <text x={717} y={345} {...title}>d) Spectral effects</text>

      <text transform="translate(34,149) rotate(-90)" textAnchor="middle" {...label}>GMST [°C]</text>
      <text transform="translate(654,149) rotate(-90)" textAnchor="middle" {...label}>GMST [°C]</text>
      <text transform="translate(34,473) rotate(-90)" textAnchor="middle" {...label}>GMST [°C]</text>
      <text transform="translate(654,473) rotate(-90)" textAnchor="middle" {...label}>PSD</text>
      <text x={338} y={645} textAnchor="middle" {...label}>time [yrs]</text>
      <text x={959} y={645} textAnchor="middle" {...label}>period [yrs]</text>

      <SampleLegend x={357} y={55} color="#f4c2c3" />
      <SampleLegend x={976} y={55} color="#fdd6b4" />
      <SampleLegend x={357} y={380} color="#ddd0ea" />

      <g fontFamily={FONT} fontSize={17} fill="#222">
        <line x1={888} x2={928} y1={380} y2={380} stroke="#db4f4a" strokeWidth={5} />
        <text x={940} y={386}>a)</text>
        <line x1={888} x2={928} y1={405} y2={405} stroke="#ff7f0e" strokeWidth={5} />
        <text x={940} y={411}>b)</text>
        <line x1={988} x2={1029} y1={380} y2={380} stroke="#9a6bc1" strokeWidth={5} />
        <text x={1041} y={386}>c)</text>
        <line x1={988} x2={1029} y1={405} y2={405} stroke="#1f77b4" strokeWidth={5} />
        <text x={1041} y={411}>LMRonline median</text>
      </g>
    </svg>
  );
}

export default function App() {
  return (
    <div style={{ position: 'absolute', left: 0, top: 0, width: 1238, height: 659, background: '#fff', fontFamily: FONT, overflow: 'hidden' }}>
      <TimePanel data={dataA} left={0} top={0} width={620} marginRight={39} yWidth={95}
        yDomain={[-0.932, 0.841]} yTicks={[-0.5, 0, 0.5]} color="#d62728" dark="#9b1418" />
      <TimePanel data={dataB} left={620} top={0} width={618} marginRight={36} yWidth={96}
        yDomain={[-1.08, 0.83]} yTicks={[-1, -0.5, 0, 0.5]} color="#ff7f0e" dark="#b0540e" />
      <TimePanel data={dataC} left={0} top={324} width={620} marginRight={39} yWidth={95}
        yDomain={[-1.006, 0.838]} yTicks={[-1, -0.5, 0, 0.5]} color="#9467bd" dark="#56377e" />
      <SpectrumPanel />
      <Overlay />
    </div>
  );
}
